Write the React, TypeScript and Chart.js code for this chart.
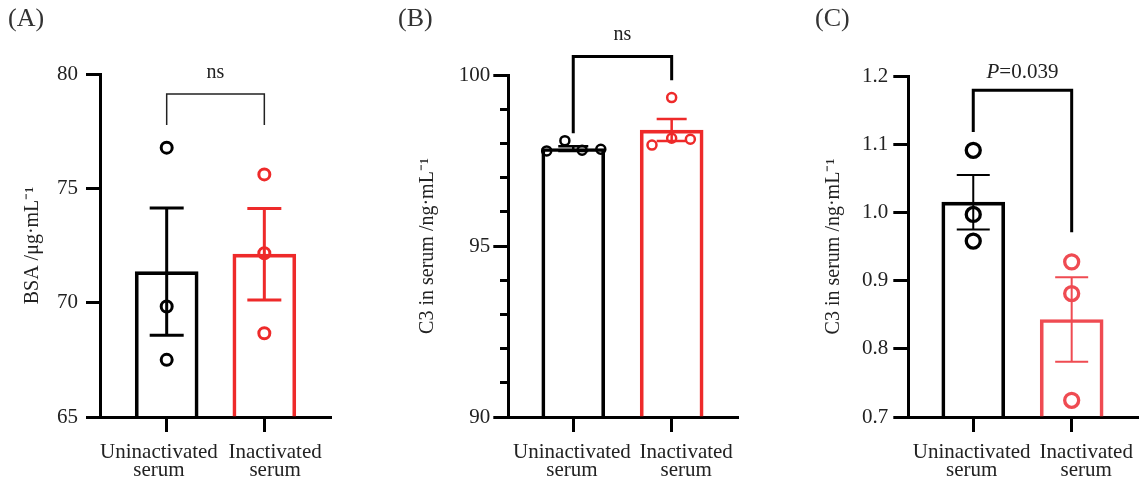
import React, { useEffect, useRef } from "react";
import { Chart, registerables } from "chart.js";

Chart.register(...registerables);

// ---------- shared ----------
const groupLabels = [["Uninactivated", "serum"], ["Inactivated", "serum"]];

// ---------- Panel A : BSA ----------
const bsaMean = [71.36, 72.12];
const bsaSem = [2.78, 2.0];
const bsaUninactivated = [76.78, 69.83, 67.5];
const bsaInactivated = [75.61, 72.16, 68.66];
const bsaUninactivatedJitter = [0, 0, 0];
const bsaInactivatedJitter = [0, 0, 0];
const bsaTicks = [65, 70, 75, 80];
const bsaMinorTicks: number[] = [];
const bsaBracket = [79.13, 77.77, 77.77]; // bar height, left end, right end
const bsaBracketLabel = "ns";

// ---------- Panel B : C3 (ng/mL) ----------
const c3bMean = [97.85, 98.39];
const c3bSem = [0.07, 0.32];
const c3bUninactivated = [97.78, 98.08, 97.8, 97.83];
const c3bInactivated = [97.95, 99.34, 98.15, 98.12];
const c3bUninactivatedJitter = [-0.27, -0.085, 0.09, 0.28];
const c3bInactivatedJitter = [-0.2, 0, 0, 0.19];
const c3bTicks = [90, 95, 100];
const c3bMinorTicks = [91, 92, 93, 94, 96, 97, 98, 99];
const c3bBracket = [100.54, 98.3, 99.85];
const c3bBracketLabel = "ns";

// ---------- Panel C : C3 ----------
const c3cMean = [1.015, 0.843];
const c3cSem = [0.04, 0.062];
const c3cUninactivated = [1.091, 0.997, 0.958];
const c3cInactivated = [0.9275, 0.881, 0.7245];
const c3cUninactivatedJitter = [0, 0, 0];
const c3cInactivatedJitter = [0, 0, 0];
const c3cTicks = [0.7, 0.8, 0.9, 1.0, 1.1, 1.2];
const c3cMinorTicks: number[] = [];
const c3cBracket = [1.179, 1.118, 0.971];
const c3cBracketLabel = "=0.039";
const c3cBracketItalic = "P";

const FONT = "'Liberation Serif', 'Times New Roman', serif";
const TEXT = "#222";

type Panel = {
  letter: string;
  yTitle: string;
  means: number[];
  sems: number[];
  points: number[][];
  jitter: number[][];
  yMin: number;
  yMax: number;
  yTicks: number[];
  minorTicks: number[];
  decimals: number;
  bracket: number[];
  bracketLabel: string;
  bracketItalic: string;
  colors: string[];
  left: number;
  width: number;
  padLeft: number;
  padRight: number;
  chartTop: number;
  yAxisWidth: number;
  yTitlePad: number;
  tickPad: number;
  tickLen: number;
  xMin: number;
  xMax: number;
  labelPos: number[];
  barBorder: number;
  errWidth: number;
  cap: number;
  pointRadius: number;
  pointBorder: number;
  bracketWidth: number;
  labelGap: number;
  labelFont: number;
};

const panels: Panel[] = [
  {
    letter: "(A)",
    yTitle: "BSA /\u03bcg\u00b7mL\u207b\u00b9",
    means: bsaMean,
    sems: bsaSem,
    points: [bsaUninactivated, bsaInactivated],
    jitter: [bsaUninactivatedJitter, bsaInactivatedJitter],
    yMin: 65,
    yMax: 80,
    yTicks: bsaTicks,
    minorTicks: bsaMinorTicks,
    decimals: 0,
    bracket: bsaBracket,
    bracketLabel: bsaBracketLabel,
    bracketItalic: "",
    colors: ["#000000", "#ee2a2a"],
    left: 0,
    width: 380,
    padLeft: 8,
    padRight: 48.3,
    chartTop: 74,
    yAxisWidth: 92,
    yTitlePad: 13,
    tickPad: 8,
    tickLen: 14,
    xMin: -0.683,
    xMax: 1.69,
    labelPos: [-0.079, 1.11],
    barBorder: 3,
    errWidth: 3,
    cap: 34,
    pointRadius: 5.5,
    pointBorder: 3,
    bracketWidth: 1.5,
    labelGap: 16,
    labelFont: 20,
  },
  {
    letter: "(B)",
    yTitle: "C3 in serum /ng\u00b7mL\u207b\u00b9",
    means: c3bMean,
    sems: c3bSem,
    points: [c3bUninactivated, c3bInactivated],
    jitter: [c3bUninactivatedJitter, c3bInactivatedJitter],
    yMin: 90,
    yMax: 100,
    yTicks: c3bTicks,
    minorTicks: c3bMinorTicks,
    decimals: 0,
    bracket: c3bBracket,
    bracketLabel: c3bBracketLabel,
    bracketItalic: "",
    colors: ["#000000", "#ee2a2a"],
    left: 380,
    width: 380,
    padLeft: 18,
    padRight: 22,
    chartTop: 75,
    yAxisWidth: 110.3,
    yTitlePad: 17.5,
    tickPad: 3,
    tickLen: 15,
    xMin: -0.66,
    xMax: 1.674,
    labelPos: [-0.013, 1.148],
    barBorder: 3,
    errWidth: 2.5,
    cap: 30,
    pointRadius: 4.5,
    pointBorder: 2.5,
    bracketWidth: 3,
    labelGap: 16.7,
    labelFont: 20,
  },
  {
    letter: "(C)",
    yTitle: "C3 in serum /ng\u00b7mL\u207b\u00b9",
    means: c3cMean,
    sems: c3cSem,
    points: [c3cUninactivated, c3cInactivated],
    jitter: [c3cUninactivatedJitter, c3cInactivatedJitter],
    yMin: 0.7,
    yMax: 1.2,
    yTicks: c3cTicks,
    minorTicks: c3cMinorTicks,
    decimals: 1,
    bracket: c3cBracket,
    bracketLabel: c3cBracketLabel,
    bracketItalic: c3cBracketItalic,
    colors: ["#000000", "#ef4b52"],
    left: 760,
    width: 379,
    padLeft: 55,
    padRight: 0,
    chartTop: 76,
    yAxisWidth: 93.3,
    yTitlePad: 7,
    tickPad: 5,
    tickLen: 15,
    xMin: -0.66,
    xMax: 1.684,
    labelPos: [-0.016, 1.148],
    barBorder: 3,
    errWidth: 2,
    cap: 33,
    pointRadius: 7,
    pointBorder: 3.3,
    bracketWidth: 3,
    labelGap: 12,
    labelFont: 21,
  },
];

function makeOverlay(p: Panel) {
  return {
    id: "overlay",
    afterDatasetDraw(chart: any, args: any) {
      if (args.index !== 0) return;
      const ctx = chart.ctx;
      const xs = chart.scales.x;
      const ys = chart.scales.y;
      ctx.save();
      ctx.lineCap = "butt";
      p.means.forEach((m, i) => {
        const x = xs.getPixelForValue(i);
        const yt = ys.getPixelForValue(m + p.sems[i]);
        const yb = ys.getPixelForValue(m - p.sems[i]);
        ctx.strokeStyle = p.colors[i];
        ctx.lineWidth = p.errWidth;
        ctx.beginPath();
        ctx.moveTo(x, yt);
        ctx.lineTo(x, yb);
        ctx.moveTo(x - p.cap / 2, yt);
        ctx.lineTo(x + p.cap / 2, yt);
        ctx.moveTo(x - p.cap / 2, yb);
        ctx.lineTo(x + p.cap / 2, yb);
        ctx.stroke();
      });
      ctx.restore();
    },
    afterDraw(chart: any) {
      const ctx = chart.ctx;
      const xs = chart.scales.x;
      const ys = chart.scales.y;
      const xl = xs.getPixelForValue(0);
      const xr = xs.getPixelForValue(1);
      const yt = ys.getPixelForValue(p.bracket[0]);
      ctx.save();
      ctx.strokeStyle = p.bracketWidth < 2 ? "#222" : "#000";
      ctx.lineWidth = p.bracketWidth;
      ctx.lineJoin = "miter";
      ctx.lineCap = "butt";
      ctx.beginPath();
      ctx.moveTo(xl, ys.getPixelForValue(p.bracket[1]));
      ctx.lineTo(xl, yt);
      ctx.lineTo(xr, yt);
      ctx.lineTo(xr, ys.getPixelForValue(p.bracket[2]));
      ctx.stroke();
      const cx = (xl + xr) / 2;
      const by = yt - p.labelGap;
      ctx.fillStyle = TEXT;
      ctx.textBaseline = "alphabetic";
      ctx.textAlign = "left";
      const normalFont = `${p.labelFont}px ${FONT}`;
      const italicFont = `italic ${p.labelFont}px ${FONT}`;
      ctx.font = italicFont;
      const wi = p.bracketItalic ? ctx.measureText(p.bracketItalic).width : 0;
      ctx.font = normalFont;
      const wn = ctx.measureText(p.bracketLabel).width;
      let x0 = cx - (wi + wn) / 2;
      if (p.bracketItalic) {
        ctx.font = italicFont;
        ctx.fillText(p.bracketItalic, x0, by);
        x0 += wi;
      }
      ctx.font = normalFont;
      ctx.fillText(p.bracketLabel, x0, by);
      ctx.restore();
    },
  };
}

function buildConfig(p: Panel): any {
  const letterLine = 26 * 1.2;
  const letterPadTop = 3.4;
  const scales: any = {
    x: {
      type: "linear",
      position: "bottom",
      offset: false,
      min: p.xMin,
      max: p.xMax,
      weight: 0,
      afterBuildTicks: (s: any) => {
        s.ticks = p.means.map((_, i) => ({ value: i }));
      },
      ticks: { display: false },
      grid: {
        display: true,
        offset: false,
        drawOnChartArea: false,
        drawTicks: true,
        tickLength: 15,
        tickWidth: 3,
        tickColor: "#000",
      },
      border: { display: true, width: 3, color: "#000" },
      afterFit: (s: any) => {
        s.height = 16;
      },
    },
    x2: {
      type: "linear",
      position: "bottom",
      axis: "x",
      offset: false,
      min: p.xMin,
      max: p.xMax,
      weight: 1,
      afterBuildTicks: (s: any) => {
        s.ticks = p.labelPos.map((v) => ({ value: v }));
      },
      ticks: {
        autoSkip: false,
        maxRotation: 0,
        minRotation: 0,
        padding: 2,
        color: TEXT,
        font: { family: FONT, size: 21, lineHeight: 0.88 },
        callback: (_v: any, i: number) => groupLabels[i],
      },
      grid: { display: false, offset: false },
      border: { display: false },
      afterFit: (s: any) => {
        s.height = 46;
        s.paddingLeft = 0;
        s.paddingRight = 0;
      },
    },
    y: {
      type: "linear",
      position: "left",
      min: p.yMin,
      max: p.yMax,
      afterBuildTicks: (s: any) => {
        s.ticks = p.yTicks.map((v) => ({ value: v }));
      },
      ticks: {
        padding: p.tickPad,
        color: TEXT,
        font: { family: FONT, size: 21 },
        callback: (v: any) => Number(v).toFixed(p.decimals),
      },
      grid: {
        display: true,
        drawOnChartArea: false,
        drawTicks: true,
        tickLength: p.tickLen,
        tickWidth: 3,
        tickColor: "#000",
      },
      border: { display: true, width: 3, color: "#000" },
      title: {
        display: true,
        text: p.yTitle,
        color: TEXT,
        font: { family: FONT, size: 20 },
        padding: { top: p.yTitlePad, bottom: 0 },
      },
      afterFit: (s: any) => {
        s.width = p.yAxisWidth;
      },
    },
  };
  if (p.minorTicks.length) {
    scales.yMinor = {
      type: "linear",
      axis: "y",
      position: { x: p.xMin },
      min: p.yMin,
      max: p.yMax,
      afterBuildTicks: (s: any) => {
        s.ticks = p.minorTicks.map((v) => ({ value: v }));
      },
      ticks: { display: false },
      grid: {
        display: true,
        drawOnChartArea: false,
        drawTicks: true,
        tickLength: 8,
        tickWidth: 3,
        tickColor: "#000",
      },
      border: { display: false },
    };
  }

  const datasets: any[] = [
    {
      type: "bar",
      label: "mean",
      data: p.means.map((m, i) => ({ x: i, y: m })),
      base: p.yMin,
      backgroundColor: "rgba(255,255,255,0)",
      borderColor: p.colors,
      borderWidth: p.barBorder,
      borderSkipped: "start",
      barThickness: 63,
      xAxisID: "x",
      yAxisID: "y",
      order: 2,
    },
  ];
  p.points.forEach((grp, gi) => {
    datasets.push({
      type: "scatter",
      label: groupLabels[gi].join(" "),
      data: grp.map((v, k) => ({ x: gi + p.jitter[gi][k], y: v })),
      pointRadius: p.pointRadius,
      pointHoverRadius: p.pointRadius,
      pointBorderWidth: p.pointBorder,
      pointBorderColor: p.colors[gi],
      pointBackgroundColor: "rgba(255,255,255,0)",
      showLine: false,
      xAxisID: "x",
      yAxisID: "y",
      order: 1,
      clip: false,
    });
  });

  return {
    type: "bar",
    data: { datasets },
    options: {
      responsive: false,
      animation: false,
      devicePixelRatio: 1,
      layout: {
        autoPadding: false,
        padding: { left: p.padLeft, right: p.padRight, top: 0, bottom: 0 },
      },
      plugins: {
        legend: { display: false },
        tooltip: { enabled: false },
        title: {
          display: true,
          text: p.letter,
          align: "start",
          color: "#333",
          font: { family: FONT, size: 26, weight: "normal" },
          padding: {
            top: letterPadTop,
            bottom: p.chartTop - letterLine - letterPadTop,
          },
        },
      },
      scales,
    },
    plugins: [makeOverlay(p)],
  };
}

function PanelChart({ p }: { p: Panel }) {
  const ref = useRef<HTMLCanvasElement | null>(null);
  useEffect(() => {
    if (!ref.current) return;
    const chart = new Chart(ref.current, buildConfig(p));
    return () => chart.destroy();
  }, [p]);
  return (
    <canvas
      ref={ref}
      width={p.width}
      height={479}
      style={{
        position: "absolute",
        left: p.left,
        top: 0,
        width: p.width,
        height: 479,
        display: "block",
      }}
    />
  );
}

export default function App() {
  return (
    <div
      style={{
        position: "absolute",
        left: 0,
        top: 0,
        width: 1139,
        height: 479,
        background: "#ffffff",
        overflow: "hidden",
      }}
    >
      {panels.map((p) => (
        <PanelChart key={p.letter} p={p} />
      ))}
    </div>
  );
}
